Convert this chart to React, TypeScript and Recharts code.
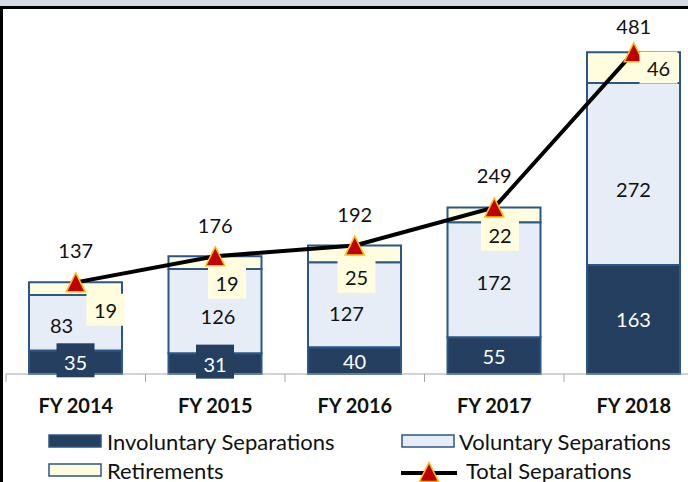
import React from 'react';
import { ComposedChart, Bar, Line, XAxis, YAxis, LabelList } from 'recharts';

const years = ['FY 2014', 'FY 2015', 'FY 2016', 'FY 2017', 'FY 2018'];
const involuntary = [35, 31, 40, 55, 163];
const voluntary = [83, 126, 127, 172, 272];
const retirements = [19, 19, 25, 22, 46];
const totals = [137, 176, 192, 249, 481];

// label nudges (px) - the original has hand-placed labels
const volNudge = [[-14, 2], [3, 5], [-8, 8], [0, 2], [0, 15]];
const retNudge = [[30, 21], [12, 20], [2, 23], [6, 20], [25, 0]];
const totalLift = [32, 31, 32, 32, 26];

const data = years.map((year, i) => ({
  year,
  involuntary: involuntary[i],
  voluntary: voluntary[i],
  retirements: retirements[i],
  total: totals[i],
}));

const NAVY = '#243F60';
const PALE_BLUE = '#E6EDF7';
const PALE_YELLOW = '#FFFDDE';
const EDGE = '#2A5788';
const RED = '#C00000';
const GOLD = '#FFC000';
const FONT = 'Lato, "Open Sans", sans-serif';
const LBL = 20;

const W = 720;
const H = 482;
const M = { top: 39.5, right: 16.5, left: 6, bottom: 68 };
const BAND = (W - M.left - M.right) / years.length;

const YearTick = (props: any) => {
  const { x, y, payload, index } = props;
  const left = x - BAND / 2;
  return (
    <g>
      <line x1={left} x2={left} y1={y} y2={y + 8} stroke="#A6A6A6" strokeWidth={1} />
      {index === years.length - 1 && (
        <line x1={x + BAND / 2} x2={x + BAND / 2} y1={y} y2={y + 8} stroke="#A6A6A6" strokeWidth={1} />
      )}
      <text x={x} y={y + 31} textAnchor="middle" dominantBaseline="central" fontSize={20} fontWeight="bold" fill="#111">
        {payload.value}
      </text>
    </g>
  );
};

// small segments get a label box that spills past the bar
const InvLabel = (p: any) => {
  const { x, y, width, height, value } = p;
  const cx = x + width / 2;
  const cy = y + height / 2;
  return (
    <g>
      {height < 25 && <rect x={cx - 19} y={cy - 19} width={38} height={34} fill={NAVY} />}
      <text x={cx} y={cy} textAnchor="middle" dominantBaseline="central" fontSize={LBL} fill="#fff">
        {value}
      </text>
    </g>
  );
};

const VolLabel = (p: any) => {
  const { x, y, width, height, value, index } = p;
  const [dx, dy] = volNudge[index] || [0, 0];
  return (
    <text
      x={x + width / 2 + dx}
      y={y + height / 2 + dy}
      textAnchor="middle"
      dominantBaseline="central"
      fontSize={LBL}
      fill="#111"
    >
      {value}
    </text>
  );
};

const RetLabel = (p: any) => {
  const { x, y, width, height, value, index } = p;
  const [dx, dy] = retNudge[index] || [0, 0];
  const cx = x + width / 2 + dx;
  const cy = y + height / 2 + dy;
  return (
    <g>
      <rect x={cx - 19} y={cy - 16} width={38} height={32} fill={PALE_YELLOW} />
      <text x={cx} y={cy} textAnchor="middle" dominantBaseline="central" fontSize={LBL} fill="#111">
        {value}
      </text>
    </g>
  );
};

const TotalLabel = (p: any) => {
  const { x, y, value, index } = p;
  return (
    <text
      x={x}
      y={y - (totalLift[index] || 30)}
      textAnchor="middle"
      dominantBaseline="central"
      fontSize={LBL}
      fill="#111"
    >
      {value}
    </text>
  );
};

const Tri = (p: any) => {
  const { cx, cy } = p;
  if (cx == null || cy == null) return null;
  return (
    <path
      d={`M${cx},${cy - 9.5} L${cx + 9.5},${cy + 9.5} L${cx - 9.5},${cy + 9.5} Z`}
      fill={RED}
      stroke={GOLD}
      strokeWidth={1.5}
    />
  );
};

export default function App() {
  return (
    <div
      style={{
        position: 'fixed',
        left: 0,
        top: 0,
        width: 688,
        height: 482,
        overflow: 'hidden',
        background: '#fff',
        fontFamily: FONT,
      }}
    >
      <ComposedChart width={W} height={H} data={data} margin={M} style={{ position: 'absolute', left: 0, top: 0 }}>
        <XAxis
          dataKey="year"
          height={40}
          tickLine={false}
          tickSize={0}
          tickMargin={0}
          axisLine={{ stroke: '#A6A6A6', strokeWidth: 1 }}
          tick={<YearTick />}
          interval={0}
        />
        <YAxis hide domain={[0, 500]} />
        <Bar dataKey="involuntary" stackId="a" barSize={93} fill={NAVY} stroke={EDGE} strokeWidth={2} isAnimationActive={false}>
          <LabelList dataKey="involuntary" content={<InvLabel />} />
        </Bar>
        <Bar dataKey="voluntary" stackId="a" barSize={93} fill={PALE_BLUE} stroke={EDGE} strokeWidth={2} isAnimationActive={false}>
          <LabelList dataKey="voluntary" content={<VolLabel />} />
        </Bar>
        <Bar dataKey="retirements" stackId="a" barSize={93} fill={PALE_YELLOW} stroke={EDGE} strokeWidth={2} isAnimationActive={false}>
          <LabelList dataKey="retirements" content={<RetLabel />} />
        </Bar>
        <Line
          dataKey="total"
          stroke="#000"
          strokeWidth={4}
          dot={(p: any) => <Tri key={`tri-${p.index}`} {...p} />}
          activeDot={false}
          isAnimationActive={false}
        >
          <LabelList dataKey="total" content={<TotalLabel />} />
        </Line>
      </ComposedChart>

      {/* frame bits left from the original slide */}
      <div style={{ position: 'absolute', left: 0, top: 0, width: 688, height: 6, background: '#D6DCE5' }} />
      <div style={{ position: 'absolute', left: 0, top: 6, width: 688, height: 3, background: '#000' }} />
      <div style={{ position: 'absolute', left: 0, top: 6, width: 3, height: 476, background: '#000' }} />

      {/* Legend */}
      <svg width={688} height={482} style={{ position: 'absolute', left: 0, top: 0, pointerEvents: 'none' }}>
        <rect x={49} y={435} width={52} height={12} fill={NAVY} stroke={EDGE} strokeWidth={1.5} />
        <text x={107} y={441} dominantBaseline="central" fontSize={22} fill="#111">
          Involuntary Separations
        </text>
        <rect x={402} y={435} width={52} height={12} fill={PALE_BLUE} stroke={EDGE} strokeWidth={1.5} />
        <text x={459} y={441} dominantBaseline="central" fontSize={22} fill="#111">
          Voluntary Separations
        </text>
        <rect x={49} y={464} width={52} height={12} fill={PALE_YELLOW} stroke={EDGE} strokeWidth={1.5} />
        <text x={107} y={470} dominantBaseline="central" fontSize={22} fill="#111">
          Retirements
        </text>
        <line x1={401} x2={457} y1={473} y2={473} stroke="#000" strokeWidth={4} />
        <Tri cx={429} cy={472} />
        <text x={466} y={470} dominantBaseline="central" fontSize={22} fill="#111">
          Total Separations
        </text>
      </svg>
    </div>
  );
}
